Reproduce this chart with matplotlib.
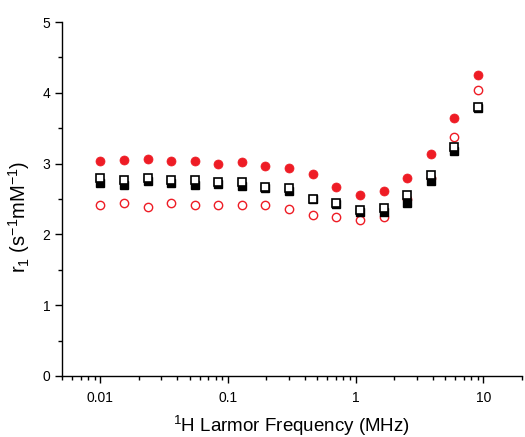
import matplotlib
matplotlib.use("Agg")
import matplotlib.pyplot as plt
from matplotlib.ticker import LogLocator, FixedLocator, MultipleLocator, NullFormatter

plt.rcParams['font.family'] = ['Liberation Sans', 'DejaVu Sans']
plt.rcParams['mathtext.default'] = 'regular'

freq = [0.01, 0.0153, 0.0234, 0.0358, 0.0548, 0.0839, 0.128, 0.196, 0.30,
        0.46, 0.70, 1.08, 1.65, 2.52, 3.86, 5.9, 9.0]

red_filled = [3.03, 3.05, 3.06, 3.04, 3.03, 3.00, 3.02, 2.97, 2.94,
              2.86, 2.67, 2.55, 2.62, 2.79, 3.14, 3.65, 4.25]
red_open = [2.41, 2.44, 2.39, 2.45, 2.42, 2.41, 2.42, 2.42, 2.36,
            2.27, 2.24, 2.20, 2.25, 2.50, 2.80, 3.38, 4.04]
black_filled = [2.72, 2.70, 2.75, 2.73, 2.70, 2.71, 2.69, 2.66, 2.61,
                2.50, 2.43, 2.31, 2.32, 2.45, 2.75, 3.18, 3.79]
black_open = [2.79, 2.77, 2.80, 2.77, 2.77, 2.74, 2.74, 2.67, 2.65,
              2.50, 2.44, 2.35, 2.37, 2.55, 2.84, 3.24, 3.80]

xticks = [0.01, 0.1, 1, 10]
xticklabels = ['0.01', '0.1', '1', '10']
yticks = [0, 1, 2, 3, 4, 5]

RED = '#ee1c25'

fig = plt.figure(figsize=(5.25, 4.37), dpi=100)
ax = fig.add_axes([0.118, 0.1396, 0.876, 0.81])

ax.plot(freq, red_open, linestyle='none', marker='o', markersize=6,
        markerfacecolor='white', markeredgecolor=RED, markeredgewidth=1.0, zorder=2)
ax.plot(freq, red_filled, linestyle='none', marker='o', markersize=6.5,
        markerfacecolor=RED, markeredgecolor=RED, markeredgewidth=0.5, zorder=3)
ax.plot(freq, black_filled, linestyle='none', marker='s', markersize=5.5,
        markerfacecolor='black', markeredgecolor='black', markeredgewidth=1.0, zorder=4)
ax.plot(freq, black_open, linestyle='none', marker='s', markersize=5.5,
        markerfacecolor='white', markeredgecolor='black', markeredgewidth=1.2, zorder=5)

ax.set_xscale('log')
ax.set_xlim(0.005, 20)
ax.set_ylim(0, 5)

ax.xaxis.set_major_locator(FixedLocator(xticks))
ax.set_xticklabels(xticklabels)
ax.xaxis.set_minor_locator(LogLocator(base=10, subs=range(2, 10), numticks=20))
ax.xaxis.set_minor_formatter(NullFormatter())
ax.set_yticks(yticks)
ax.yaxis.set_minor_locator(MultipleLocator(0.5))

for s in ['top', 'right']:
    ax.spines[s].set_visible(False)
for s in ['left', 'bottom']:
    ax.spines[s].set_linewidth(1.0)

ax.tick_params(which='major', direction='out', length=5, width=1.0, labelsize=10)
ax.tick_params(which='minor', direction='out', length=3, width=1.0)
ax.tick_params(axis='x', pad=6)

ax.set_xlabel('$^1$H Larmor Frequency (MHz)', fontsize=13.5, labelpad=6)
ax.set_ylabel('r$_1$ (s$^{-1}$mM$^{-1}$)', fontsize=14.5)
ax.yaxis.set_label_coords(-0.066, 0.45)

fig.savefig('out.png', dpi=100)
